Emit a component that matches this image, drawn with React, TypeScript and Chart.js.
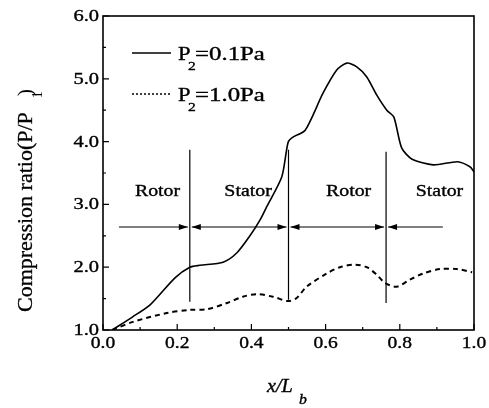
import React, { useEffect, useRef } from 'react';
import Chart from 'chart.js/auto';

// Series data (x/L_b, compression ratio)
const solidX = [0.025, 0.08, 0.127, 0.194, 0.234, 0.261, 0.324, 0.361, 0.396, 0.423, 0.441, 0.482, 0.499, 0.512, 0.545, 0.593, 0.630, 0.657, 0.684, 0.711, 0.738, 0.765, 0.784, 0.805, 0.833, 0.890, 0.956, 0.989, 1.0];
const solidY = [1.0, 1.21, 1.40, 1.83, 2.0, 2.03, 2.08, 2.23, 2.50, 2.75, 2.96, 3.44, 3.99, 4.07, 4.18, 4.77, 5.14, 5.25, 5.19, 5.03, 4.74, 4.50, 4.39, 3.90, 3.72, 3.63, 3.68, 3.60, 3.52];
const dashX = [0.025, 0.081, 0.172, 0.234, 0.28, 0.334, 0.377, 0.415, 0.458, 0.499, 0.522, 0.549, 0.603, 0.639, 0.679, 0.711, 0.738, 0.760, 0.792, 0.827, 0.863, 0.908, 0.954, 0.995];
const dashY = [1.0, 1.13, 1.27, 1.32, 1.33, 1.43, 1.53, 1.57, 1.53, 1.46, 1.51, 1.69, 1.90, 2.0, 2.04, 2.0, 1.88, 1.75, 1.69, 1.80, 1.90, 1.97, 1.97, 1.92];

const seriesNames = ['P2=0.1Pa', 'P2=1.0Pa'];
const legendTail = ['=0.1Pa', '=1.0Pa'];

const xTicks = [0, 0.2, 0.4, 0.6, 0.8, 1.0];
const xTickLabels = ['0.0', '0.2', '0.4', '0.6', '0.8', '1.0'];
const xMinorTicks = [0.1, 0.3, 0.5, 0.7, 0.9];
const yTicks = [1, 2, 3, 4, 5, 6];
const yTickLabels = ['1.0', '2.0', '3.0', '4.0', '5.0', '6.0'];
const yMinorTicks = [1.5, 2.5, 3.5, 4.5, 5.5];

// Rotor / stator annotations
const dividerX = [0.234, 0.5, 0.763];
const dividerTop = [3.87, 3.87, 3.84];
const dividerBottom = [1.45, 1.48, 1.43];
const arrowY = 2.64;
const arrowFrom = [0.043, 0.234, 0.5, 0.763];
const arrowTo = [0.234, 0.5, 0.763, 0.916];
const arrowHeadAtFrom = [false, true, true, true];
const arrowHeadAtTo = [true, true, true, false];
const regionLabels = ['Rotor', 'Stator', 'Rotor', 'Stator'];
const regionLabelX = [0.147, 0.391, 0.662, 0.907];
const regionLabelY = 3.13;

const SERIF = '"Liberation Serif", "Times New Roman", serif';

function drawText(ctx: CanvasRenderingContext2D, text: string, x: number, y: number, font: string, align: CanvasTextAlign, stretch: number) {
  ctx.save();
  ctx.translate(x, y);
  ctx.scale(stretch, 1);
  ctx.font = font;
  ctx.textAlign = align;
  ctx.textBaseline = 'alphabetic';
  ctx.fillStyle = '#000';
  ctx.strokeStyle = '#000';
  ctx.lineWidth = 0.35;
  ctx.fillText(text, 0, 0);
  ctx.strokeText(text, 0, 0);
  ctx.restore();
}

function arrowHead(ctx: CanvasRenderingContext2D, x: number, y: number, dir: number) {
  ctx.beginPath();
  ctx.moveTo(x, y);
  ctx.lineTo(x - dir * 9, y - 3);
  ctx.lineTo(x - dir * 9, y + 3);
  ctx.closePath();
  ctx.fill();
}

const decorPlugin = {
  id: 'decor',
  afterDraw(chart: any) {
    const ctx: CanvasRenderingContext2D = chart.ctx;
    const { left, right, top, bottom } = chart.chartArea;
    const xs = chart.scales.x;
    const ys = chart.scales.y;
    ctx.save();
    ctx.strokeStyle = '#000';
    ctx.fillStyle = '#000';

    // frame
    ctx.lineWidth = 1.6;
    ctx.strokeRect(left, top, right - left, bottom - top);

    // ticks (inward)
    ctx.lineWidth = 1.2;
    ctx.beginPath();
    xTicks.forEach((v) => { const p = xs.getPixelForValue(v); ctx.moveTo(p, bottom); ctx.lineTo(p, bottom - 6); });
    xMinorTicks.forEach((v) => { const p = xs.getPixelForValue(v); ctx.moveTo(p, bottom); ctx.lineTo(p, bottom - 3); });
    yTicks.forEach((v) => { const p = ys.getPixelForValue(v); ctx.moveTo(left, p); ctx.lineTo(left + 6, p); });
    yMinorTicks.forEach((v) => { const p = ys.getPixelForValue(v); ctx.moveTo(left, p); ctx.lineTo(left + 3, p); });
    ctx.stroke();

    // tick labels
    xTicks.forEach((v, i) => drawText(ctx, xTickLabels[i], xs.getPixelForValue(v), bottom + 18, `16px ${SERIF}`, 'center', 1.22));
    yTicks.forEach((v, i) => drawText(ctx, yTickLabels[i], left - 4, ys.getPixelForValue(v) + 5, `16px ${SERIF}`, 'right', 1.28));

    // dividers
    ctx.lineWidth = 1.2;
    ctx.beginPath();
    dividerX.forEach((v, i) => {
      const p = xs.getPixelForValue(v);
      ctx.moveTo(p, ys.getPixelForValue(dividerTop[i]));
      ctx.lineTo(p, ys.getPixelForValue(dividerBottom[i]));
    });
    ctx.stroke();

    // arrows
    const ay = ys.getPixelForValue(arrowY);
    ctx.lineWidth = 1;
    arrowFrom.forEach((f, i) => {
      const x1 = xs.getPixelForValue(f) + (arrowHeadAtFrom[i] ? 2 : 0);
      const x2 = xs.getPixelForValue(arrowTo[i]) - (arrowHeadAtTo[i] ? 2 : 0);
      ctx.beginPath();
      ctx.moveTo(x1, ay);
      ctx.lineTo(x2, ay);
      ctx.stroke();
      if (arrowHeadAtFrom[i]) arrowHead(ctx, x1, ay, -1);
      if (arrowHeadAtTo[i]) arrowHead(ctx, x2, ay, 1);
    });

    // region labels
    regionLabels.forEach((t, i) => drawText(ctx, t, xs.getPixelForValue(regionLabelX[i]), ys.getPixelForValue(regionLabelY), `16px ${SERIF}`, 'center', 1.24));

    // legend
    const legendRows = [53, 94];
    legendRows.forEach((ly, i) => {
      ctx.save();
      ctx.lineWidth = 1.5;
      if (i === 1) ctx.setLineDash([2, 2]);
      ctx.beginPath();
      ctx.moveTo(132, ly);
      ctx.lineTo(171, ly);
      ctx.stroke();
      ctx.restore();
      drawText(ctx, 'P', 178, ly + 7, `18px ${SERIF}`, 'left', 1.25);
      drawText(ctx, '2', 188, ly + 17, `13px ${SERIF}`, 'left', 1.2);
      drawText(ctx, legendTail[i], 195, ly + 7, `18px ${SERIF}`, 'left', 1.38);
    });

    // x title
    drawText(ctx, 'x/L', 267, 392, `italic 18px ${SERIF}`, 'left', 1.12);
    drawText(ctx, 'b', 299, 404, `italic 14px ${SERIF}`, 'left', 1.12);

    // y title (rotated)
    ctx.save();
    ctx.translate(32, 312);
    ctx.rotate(-Math.PI / 2);
    ctx.font = `22px ${SERIF}`;
    ctx.textAlign = 'left';
    ctx.textBaseline = 'alphabetic';
    ctx.lineWidth = 0.3;
    const main = 'Compression ratio(P/P';
    const w = ctx.measureText(main).width;
    ctx.fillText(main, 0, 0);
    ctx.strokeText(main, 0, 0);
    ctx.font = `14px ${SERIF}`;
    ctx.fillText('1', w + 14, 10);
    ctx.font = `22px ${SERIF}`;
    ctx.fillText(')', w + 16, 0);
    ctx.restore();

    ctx.restore();
  },
};

export default function App() {
  const ref = useRef<HTMLCanvasElement | null>(null);
  useEffect(() => {
    if (!ref.current) return;
    const chart = new Chart(ref.current, {
      type: 'line',
      data: {
        datasets: [
          {
            label: seriesNames[0],
            data: solidX.map((x, i) => ({ x, y: solidY[i] })),
            borderColor: '#000',
            borderWidth: 1.6,
            pointRadius: 0,
            tension: 0.25,
            fill: false,
          },
          {
            label: seriesNames[1],
            data: dashX.map((x, i) => ({ x, y: dashY[i] })),
            borderColor: '#000',
            borderWidth: 2,
            borderDash: [5, 4],
            pointRadius: 0,
            tension: 0.3,
            fill: false,
          },
        ],
      },
      options: {
        responsive: false,
        animation: false,
        devicePixelRatio: 1,
        layout: { padding: { top: 16, right: 15, left: 0, bottom: 0 } },
        plugins: { legend: { display: false }, tooltip: { enabled: false } },
        scales: {
          x: {
            type: 'linear',
            min: 0,
            max: 1,
            grid: { display: false },
            border: { display: false },
            ticks: { display: false, stepSize: 0.2 },
            afterFit: (s: any) => { s.height = 78; },
          },
          y: {
            type: 'linear',
            min: 1,
            max: 6,
            grid: { display: false },
            border: { display: false },
            ticks: { display: false, stepSize: 1 },
            afterFit: (s: any) => { s.width = 103; },
          },
        },
      },
      plugins: [decorPlugin],
    } as any);
    return () => chart.destroy();
  }, []);
  return (
    <div style={{ position: 'absolute', left: 0, top: 0, width: 489, height: 408, background: '#fff' }}>
      <canvas ref={ref} width={489} height={408} />
    </div>
  );
}
